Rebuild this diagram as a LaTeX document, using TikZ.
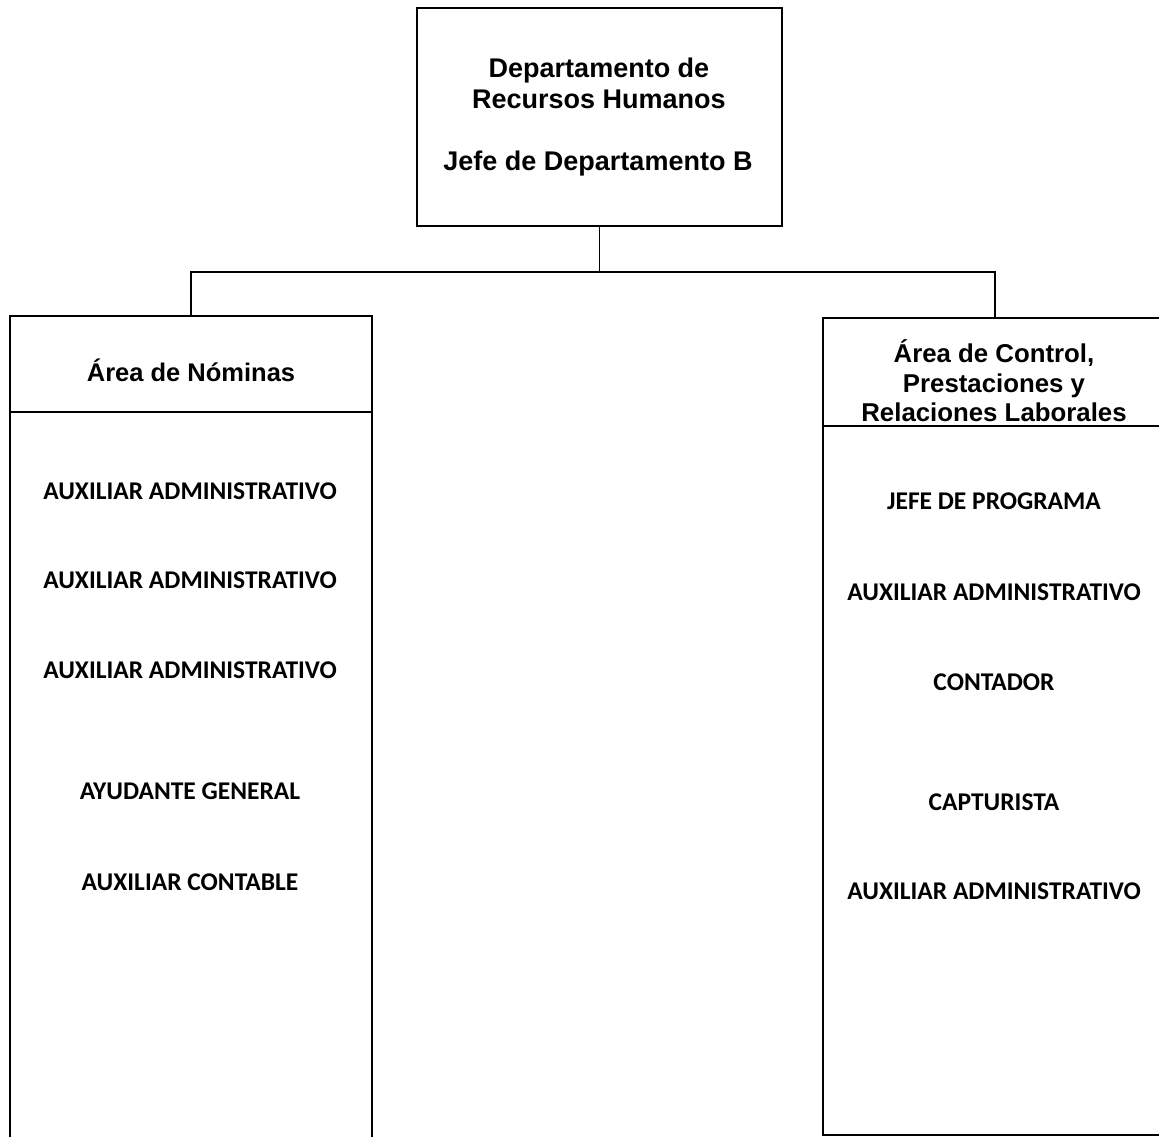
\documentclass[tikz,border=0pt]{standalone}
\usepackage{fontspec}
\setmainfont{Liberation Sans}
\newfontfamily\calfont{Carlito}
\begin{document}
\begin{tikzpicture}[x=1pt,y=-1pt,
  box/.style={draw, line width=2.2pt, inner sep=0pt},
  sepline/.style={line width=2.2pt},
  head/.style={font=\bfseries\fontsize{25.5}{31}\selectfont, align=center, inner sep=0pt},
  job/.style={font=\calfont\bfseries\fontsize{25.5}{30}\selectfont, inner sep=0pt},
  link/.style={line width=1.4pt}]
\clip (0,0) rectangle (1159,1136);
\fill[white] (0,0) rectangle (1159,1136);
% top box
\node[box, minimum width=365pt, minimum height=218pt] (top) at (599.5,117) {};
\node[head, font=\bfseries\fontsize{27}{31}\selectfont] (toptxt) at (599,83) {Departamento de\\Recursos Humanos};
\node[head, font=\bfseries\fontsize{27}{31}\selectfont] (jefe) at (598,164) {Jefe de Departamento B};
% left box
\node[box, minimum width=362pt, minimum height=834pt] (nom) at (191,733) {};
\coordinate (sepL) at (0,412);
\draw[sepline] (nom.west |- sepL) -- (nom.east |- sepL);
\node[head] (nomh) at (191,370) {Área de Nóminas};
% right box
\node[box, minimum width=344pt, minimum height=817pt] (ctl) at (995,726.5) {};
\coordinate (sepR) at (0,426);
\draw[sepline] (ctl.west |- sepR) -- (ctl.east |- sepR);
\node[head, font=\bfseries\fontsize{25.8}{29.5}\selectfont] (ctlh) at (994,381) {Área de Control,\\Prestaciones y\\Relaciones Laborales};
% connectors
\coordinate (bus) at (598,272);
\draw[link] (top.south) -- (top.south |- bus);
\draw[link] (nom.north) |- (bus) -| (ctl.north);
% left jobs
\node[job] (l1) at (190,491) {AUXILIAR ADMINISTRATIVO};
\node[job] (l2) at (190,580) {AUXILIAR ADMINISTRATIVO};
\node[job] (l3) at (190,670) {AUXILIAR ADMINISTRATIVO};
\node[job] (l4) at (190,791) {AYUDANTE GENERAL};
\node[job] (l5) at (190,882) {AUXILIAR CONTABLE};
% right jobs
\node[job] (r1) at (994,501) {JEFE DE PROGRAMA};
\node[job] (r2) at (994,592) {AUXILIAR ADMINISTRATIVO};
\node[job] (r3) at (994,682) {CONTADOR};
\node[job] (r4) at (994,802) {CAPTURISTA};
\node[job] (r5) at (994,891) {AUXILIAR ADMINISTRATIVO};
\end{tikzpicture}
\end{document}
